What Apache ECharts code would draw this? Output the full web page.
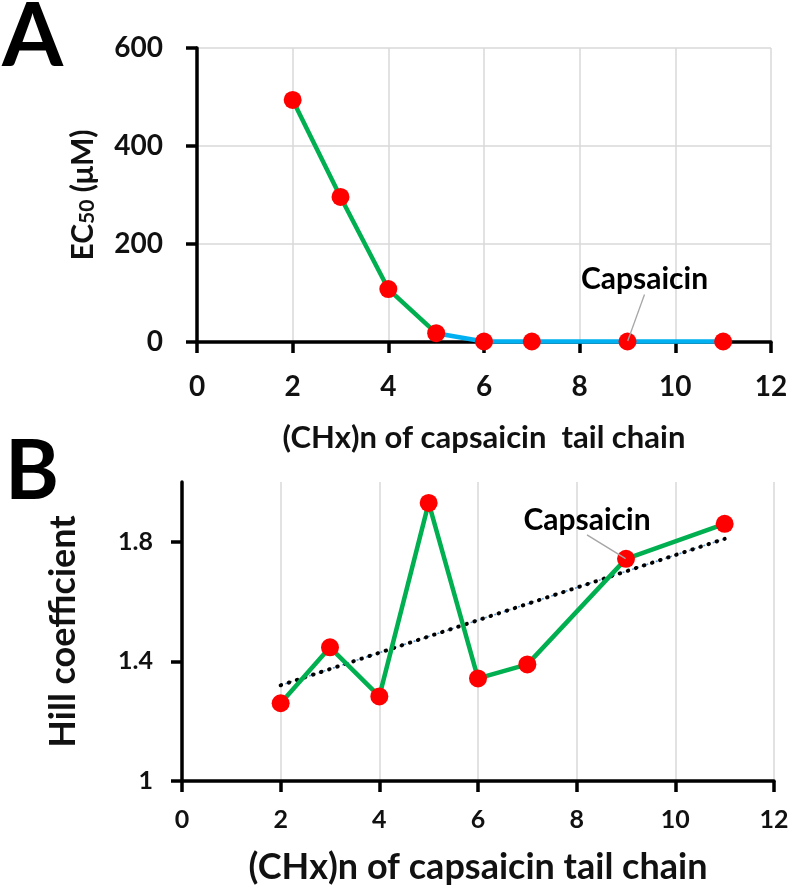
<!DOCTYPE html>
<html><head><meta charset="utf-8">
<script src="https://cdn.jsdelivr.net/npm/echarts@6/dist/echarts.min.js"></script>
<style>html,body{margin:0;padding:0;background:#fff}#c{width:792px;height:891px}</style>
</head><body><div id="c"></div>
<script>
// ---- data ----
const chainLength = [2, 3, 4, 5, 6, 7, 9, 11];
const ec50 = [494, 296, 108, 18, 1, 1, 1, 1];
const hill = [1.26, 1.447, 1.283, 1.93, 1.343, 1.39, 1.743, 1.86];
const trendX = [2, 11];
const trendHill = [1.32, 1.81];
const xTicks = [0, 2, 4, 6, 8, 10, 12];
const ec50Ticks = [0, 200, 400, 600];
const hillTicks = [1, 1.4, 1.8];
const capsaicinX = 9;
const xTitle = '(CHx)n of capsaicin  tail chain';
const xTitleB = '(CHx)n of capsaicin tail chain';

// ---- derived ----
const pairs = (xs, ys) => xs.map((x, i) => [x, ys[i]]);
const ecPts = pairs(chainLength, ec50);
const hillPts = pairs(chainLength, hill);
const greenA = ecPts.slice(0, 4);
const blueA = ecPts.slice(3);
const capIdx = chainLength.indexOf(capsaicinX);

const FONT = 'Lato';
const TXT = '#111';
const GRID = '#d9d9d9';

function xAxisCfg(gridIndex, fs, margin, nameFs, nameGap, name) {
  return {
    type: 'value', gridIndex, min: xTicks[0], max: xTicks[xTicks.length - 1], interval: xTicks[1] - xTicks[0],
    axisLine: { show: true, onZero: false, lineStyle: { color: '#000', width: 3.5 } },
    axisTick: { show: true, length: 11, lineStyle: { color: '#000', width: 3.5 } },
    axisLabel: { fontFamily: FONT, fontWeight: 'bold', fontSize: fs, color: TXT, margin },
    splitLine: { show: true, lineStyle: { color: GRID, width: 1.5 } },
    name, nameLocation: 'middle', nameGap,
    nameTextStyle: { fontFamily: FONT, fontWeight: 'bold', fontSize: nameFs, color: TXT }
  };
}

const redDot = { color: '#ff0000', opacity: 1 };
const capLabel = { show: true, position: 'inside', formatter: 'Capsaicin', fontFamily: FONT, fontWeight: 'bold', fontSize: 30, color: '#000', opacity: 1, textBorderWidth: 0 };

const option = {
  backgroundColor: '#fff',
  animation: false,
  grid: [
    { left: 197, top: 48, width: 574, height: 294 },
    { left: 182, top: 482, width: 592, height: 299 }
  ],
  xAxis: [
    xAxisCfg(0, 28, 31, 31, 80, xTitle),
    xAxisCfg(1, 25, 26, 36, 68, xTitleB)
  ],
  yAxis: [
    {
      type: 'value', gridIndex: 0, min: ec50Ticks[0], max: ec50Ticks[ec50Ticks.length - 1], interval: ec50Ticks[1] - ec50Ticks[0],
      axisLine: { show: true, lineStyle: { color: '#000', width: 3.5 } },
      axisTick: { show: true, length: 11, lineStyle: { color: '#000', width: 3.5 } },
      axisLabel: { fontFamily: FONT, fontWeight: 'bold', fontSize: 28, color: TXT, margin: 34 },
      splitLine: { show: true, lineStyle: { color: GRID, width: 1.5 } },
      name: '{a|EC}{s|50}{a| (μM)}', nameLocation: 'middle', nameRotate: 90, nameGap: 99,
      nameTextStyle: {
        fontFamily: FONT, fontWeight: 'bold', fontSize: 30, color: TXT,
        rich: {
          a: { fontFamily: FONT, fontWeight: 'bold', fontSize: 30, color: TXT },
          s: { fontFamily: FONT, fontWeight: 'bold', fontSize: 21, color: TXT, verticalAlign: 'bottom', padding: [7, 0, 0, 0] }
        }
      }
    },
    {
      type: 'value', gridIndex: 1, min: 1, max: 2, interval: 0.2,
      axisLine: { show: true, lineStyle: { color: '#000', width: 3.5 } },
      axisTick: { show: true, length: 11, customValues: hillTicks, lineStyle: { color: '#000', width: 3.5 } },
      axisLabel: {
        fontFamily: FONT, fontWeight: 'bold', fontSize: 25, color: TXT, margin: 29,
        customValues: hillTicks,
        formatter: v => hillTicks.some(t => Math.abs(t - v) < 1e-6) ? String(+(+v).toFixed(1)) : ''
      },
      splitLine: { show: true, showMaxLine: false, lineStyle: { color: [GRID, 'rgba(0,0,0,0)', GRID, 'rgba(0,0,0,0)', GRID, 'rgba(0,0,0,0)'], width: 1.5 } },
      name: 'Hill coefficient', nameLocation: 'middle', nameRotate: 90, nameGap: 101,
      nameTextStyle: { fontFamily: FONT, fontWeight: 'bold', fontSize: 36, color: TXT }
    }
  ],
  graphic: [
    { type: 'text', left: 2, top: -6, style: { text: 'A', font: 'bold 88px Lato', fill: '#000' } },
    { type: 'text', left: 5, top: 432, style: { text: 'B', font: 'bold 82px Lato', fill: '#000' } }
  ],
  series: [
    { type: 'line', xAxisIndex: 0, yAxisIndex: 0, data: greenA, showSymbol: false, z: 3,
      lineStyle: { color: '#00b050', width: 4.5 } },
    { type: 'line', xAxisIndex: 0, yAxisIndex: 0, data: blueA, showSymbol: false, z: 2,
      lineStyle: { color: '#00b0f0', width: 4.5 } },
    { type: 'scatter', xAxisIndex: 0, yAxisIndex: 0, data: ecPts, symbolSize: 18, itemStyle: redDot, z: 4 },
    { type: 'scatter', xAxisIndex: 0, yAxisIndex: 0, data: [ecPts[capIdx]], symbolSize: 1, z: 6,
      itemStyle: { color: 'rgba(0,0,0,0)' },
      label: capLabel,
      labelLayout: { dx: 17, dy: -62 },
      labelLine: { show: true, lineStyle: { color: '#a6a6a6', width: 1.3 } } },

    { type: 'line', xAxisIndex: 1, yAxisIndex: 1, data: pairs(trendX, trendHill), showSymbol: false, z: 2,
      lineStyle: { color: '#5b9bd5', width: 1.5, type: [2, 3] } },
    { type: 'line', xAxisIndex: 1, yAxisIndex: 1, data: pairs(trendX, trendHill), showSymbol: false, z: 2,
      lineStyle: { color: '#000', width: 4, type: [0.5, 8], cap: 'round' } },
    { type: 'line', xAxisIndex: 1, yAxisIndex: 1, data: hillPts, showSymbol: false, z: 3,
      lineStyle: { color: '#00b050', width: 4.5 } },
    { type: 'scatter', xAxisIndex: 1, yAxisIndex: 1, data: hillPts, symbolSize: 18, itemStyle: redDot, z: 4 },
    { type: 'scatter', xAxisIndex: 1, yAxisIndex: 1, data: [hillPts[capIdx]], symbolSize: 1, z: 6,
      itemStyle: { color: 'rgba(0,0,0,0)' },
      label: capLabel,
      labelLayout: { dx: -39, dy: -39 },
      labelLine: { show: true, lineStyle: { color: '#a6a6a6', width: 1.3 } } }
  ]
};

const chart = echarts.init(document.getElementById('c'), null, { renderer: 'canvas' });
chart.setOption(option);
</script>
</body></html>
